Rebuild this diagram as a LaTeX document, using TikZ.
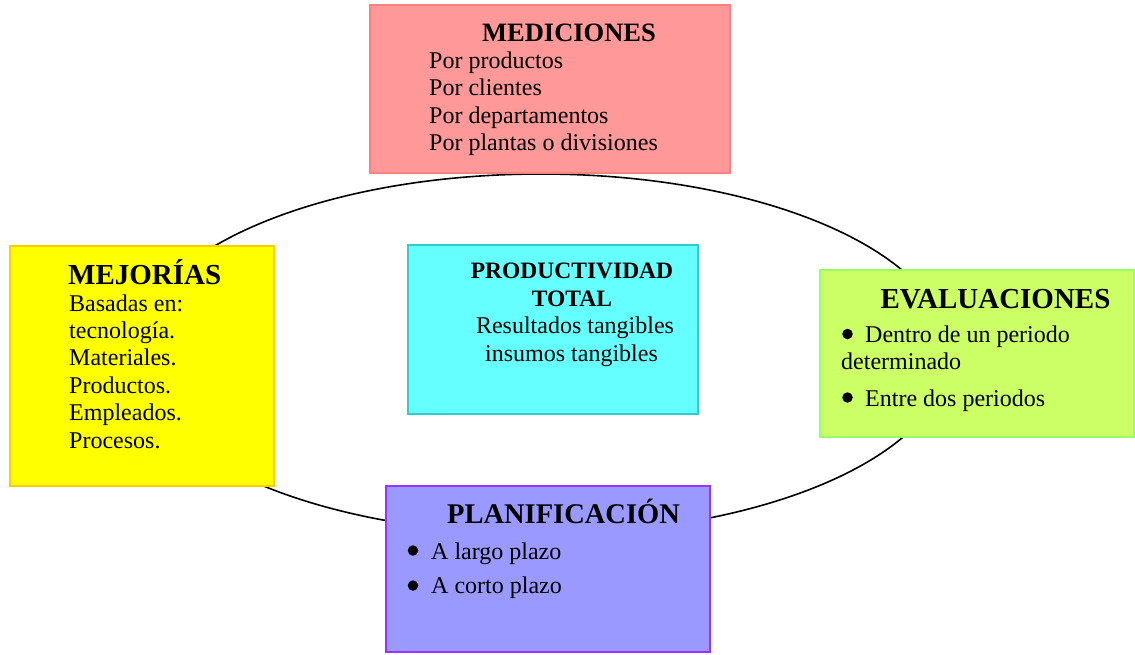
\documentclass[tikz,border=0pt]{standalone}
\usepackage{fontspec}
\setmainfont{Liberation Serif}

\definecolor{rosa}{RGB}{255,153,153}
\definecolor{rosaborde}{RGB}{255,128,128}
\definecolor{amarillo}{RGB}{255,255,0}
\definecolor{amarilloborde}{RGB}{255,204,0}
\definecolor{celeste}{RGB}{102,255,255}
\definecolor{celesteborde}{RGB}{51,204,204}
\definecolor{verde}{RGB}{204,255,102}
\definecolor{verdeborde}{RGB}{153,255,102}
\definecolor{lila}{RGB}{153,153,255}
\definecolor{lilaborde}{RGB}{153,51,255}

\begin{document}
\begin{tikzpicture}[x=1pt,y=-1pt]
\tikzstyle{caja} = [rectangle, draw, line width=1.6pt, inner sep=0pt, outer sep=0pt]
\tikzstyle{titulo} = [anchor=base, inner sep=0pt, font=\fontsize{29}{33}\selectfont\bfseries]
\tikzstyle{linea} = [anchor=base west, inner sep=0pt, font=\fontsize{24}{28}\selectfont]
\tikzstyle{punto} = [circle, fill=black, inner sep=0pt, minimum size=10.5]

\useasboundingbox (0,0) rectangle (1135,654);

% ciclo
\draw[line width=1.6pt] (541,354) ellipse [x radius=408pt, y radius=180pt];

\node[caja, fill=rosa, draw=rosaborde, minimum width=360, minimum height=168] (MED) at (550,89) {};
\node[caja, fill=amarillo, draw=amarilloborde, minimum width=264, minimum height=240] (MEJ) at (142,366) {};
\node[caja, fill=celeste, draw=celesteborde, minimum width=290, minimum height=169] (PROD) at (553,329.5) {};
\node[caja, fill=verde, draw=verdeborde, minimum width=314, minimum height=167] (EVA) at (977,353.5) {};
\node[caja, fill=lila, draw=lilaborde, minimum width=324, minimum height=166] (PLA) at (548,569) {};

% mediciones
\node[titulo, font=\fontsize{26.5}{30}\selectfont\bfseries] (MEDt) at (569,41) {MEDICIONES};
\foreach \txt [count=\i] in {Por productos, Por clientes, Por departamentos, Por plantas o divisiones}
  \node[linea] (MED\i) at (429,{40.4+27.6*\i}) {\txt};

% mejorias
\node[titulo, anchor=base west] (MEJt) at (68,284) {MEJORÍAS};
\foreach \txt [count=\i] in {Basadas en:, tecnología., Materiales., Productos., Empleados., Procesos.}
  \node[linea] (MEJ\i) at (69,{283.6+27.4*\i}) {\txt};

% productividad
\node[titulo, font=\fontsize{23.5}{28}\selectfont\bfseries] (PRODt1) at (572,278) {PRODUCTIVIDAD};
\node[titulo, font=\fontsize{23.5}{28}\selectfont\bfseries] (PRODt2) at (572,306) {TOTAL};
\node[linea, anchor=base] (PROD1) at (575,333) {Resultados tangibles};
\node[linea, anchor=base] (PROD2) at (571.5,361) {insumos tangibles};

% evaluaciones
\node[titulo] (EVAt) at (995.5,308) {EVALUACIONES};
\node[punto] (EVAb1) at (847.5,334) {};
\node[linea] (EVA1) at (865,342) {Dentro de un periodo};
\node[linea] (EVA1b) at (841,369) {determinado};
\node[punto] (EVAb2) at (847.5,397.5) {};
\node[linea] (EVA2) at (865,406) {Entre dos periodos};

% planificacion
\node[titulo, font=\fontsize{28.5}{33}\selectfont\bfseries] (PLAt) at (563.5,523) {PLANIFICACIÓN};
\node[punto] (PLAb1) at (413,550.5) {};
\node[linea] (PLA1) at (431,559) {A largo plazo};
\node[punto] (PLAb2) at (413,585.5) {};
\node[linea] (PLA2) at (431,593) {A corto plazo};

\end{tikzpicture}
\end{document}
